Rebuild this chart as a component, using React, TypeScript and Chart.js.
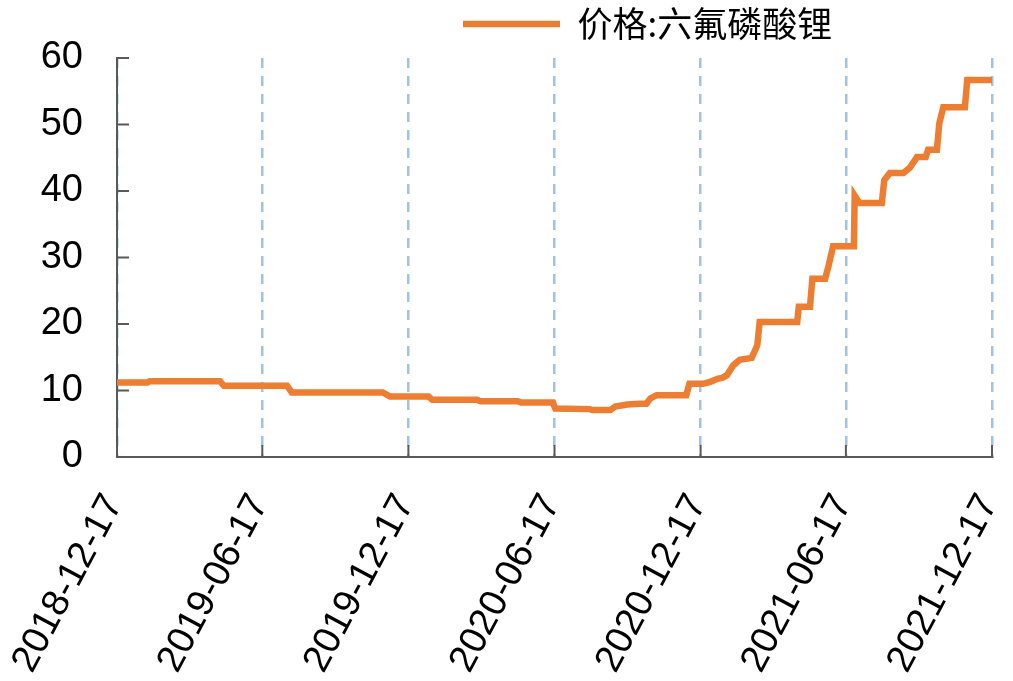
import { useEffect, useRef } from "react"
import { Chart, registerables } from "chart.js"
import type { Plugin } from "chart.js"

Chart.register(...registerables)

const seriesLabel = "价格:六氟磷酸锂"

// x positions are days counted from 2018-12-17
const tickDays = [0, 182, 365, 548, 731, 913, 1096]
const tickLabels = ["2018-12-17", "2019-06-17", "2019-12-17", "2020-06-17", "2020-12-17", "2021-06-17", "2021-12-17"]
const yTicks = [0, 10, 20, 30, 40, 50, 60]

const days = [
  0, 38, 41, 129, 134, 213, 219, 333, 342, 390, 395, 451, 455, 502, 506, 546, 549, 592, 596, 618, 624, 639, 655, 663,
  668, 676, 713, 717, 734, 743, 753, 758, 764, 772, 780, 795, 802, 805, 852, 854, 868, 871, 887, 891, 897, 923, 924,
  930, 958, 961, 968, 985, 993, 1002, 1013, 1016, 1027, 1030, 1035, 1062, 1065, 1096,
]
const prices = [
  11.2, 11.2, 11.4, 11.4, 10.7, 10.7, 9.7, 9.7, 9.1, 9.1, 8.6, 8.6, 8.4, 8.4, 8.2, 8.2, 7.3, 7.2, 7.05, 7.05, 7.6, 7.9,
  8.0, 8.0, 8.8, 9.3, 9.3, 11.0, 11.0, 11.3, 11.8, 11.9, 12.3, 13.8, 14.6, 14.9, 16.8, 20.3, 20.3, 22.6, 22.6, 26.8,
  26.8, 28.6, 31.7, 31.7, 39.3, 38.2, 38.2, 41.6, 42.7, 42.7, 43.5, 45.1, 45.1, 46.2, 46.2, 50.2, 52.6, 52.6, 56.7, 56.7,
]

const lineColor = "#ED7D31"
const axisColor = "#595959"
const gridColor = "#9DC3E6"
const fontFamily = "'Liberation Sans', Arial, sans-serif"
const legendFontSize = 35
const legendPadding = 6

// legend placement + the short inward tick marks Excel draws
const excelTweaks: Plugin<"line"> = {
  id: "excelTweaks",
  afterLayout(chart) {
    const legend: any = chart.legend
    if (!legend) return
    legend.left = 463 - legendPadding
    legend.top = 24 - legendPadding - legendFontSize / 2
  },
  beforeDatasetsDraw(chart) {
    const { ctx, chartArea, scales } = chart
    ctx.save()
    ctx.strokeStyle = axisColor
    ctx.lineWidth = 2
    ctx.beginPath()
    yTicks.forEach((v) => {
      const py = scales.y.getPixelForValue(v)
      ctx.moveTo(chartArea.left, py)
      ctx.lineTo(chartArea.left + 12, py)
    })
    tickDays.forEach((d) => {
      const px = scales.x.getPixelForValue(d)
      ctx.moveTo(px, chartArea.bottom)
      ctx.lineTo(px, chartArea.bottom - 12)
    })
    ctx.stroke()
    ctx.restore()
  },
}

export default function App() {
  const chartRef = useRef<HTMLCanvasElement>(null)
  const chartInstance = useRef<Chart | null>(null)

  useEffect(() => {
    document.body.style.margin = "0"
    if (!chartRef.current) return
    if (chartInstance.current) chartInstance.current.destroy()

    const ctx = chartRef.current.getContext("2d")
    if (!ctx) return

    chartInstance.current = new Chart(ctx, {
      type: "line",
      data: {
        datasets: [
          {
            label: seriesLabel,
            data: days.map((d, i) => ({ x: d, y: prices[i] })),
            borderColor: lineColor,
            backgroundColor: lineColor,
            borderWidth: 6.5,
            borderCapStyle: "round",
            pointRadius: 0,
            tension: 0,
          },
        ],
      },
      options: {
        animation: false,
        responsive: true,
        maintainAspectRatio: false,
        layout: { padding: { left: 0, right: 21, top: 7, bottom: 0 } },
        plugins: {
          tooltip: { enabled: false },
          legend: {
            position: "top",
            align: "start",
            labels: {
              usePointStyle: true,
              pointStyle: "line",
              pointStyleWidth: 97,
              padding: legendPadding,
              color: "#000",
              font: { family: "'Noto Sans CJK SC', sans-serif", size: legendFontSize },
            },
          },
        },
        scales: {
          x: {
            type: "linear",
            min: 0,
            max: 1096,
            afterBuildTicks: (axis) => {
              axis.ticks = tickDays.map((value) => ({ value }))
            },
            afterFit: (axis) => {
              // rotated labels: keep the plot wide like the original
              axis.paddingLeft = 0
              axis.paddingRight = 0
              axis.height = 224
            },
            grid: { color: gridColor, lineWidth: 2.5, drawTicks: false },
            border: { color: axisColor, width: 2, dash: [10, 8] },
            ticks: {
              autoSkip: false,
              minRotation: 62,
              maxRotation: 62,
              padding: 30,
              labelOffset: -3,
              color: "#000",
              font: { family: fontFamily, size: 38 },
              callback: (value) => tickLabels[tickDays.indexOf(Number(value))] ?? "",
            },
          },
          y: {
            min: 0,
            max: 60,
            afterFit: (axis) => {
              axis.width = 117
            },
            grid: { drawOnChartArea: false, drawTicks: false },
            border: { color: axisColor, width: 2 },
            ticks: {
              stepSize: 10,
              padding: 34,
              color: "#000",
              font: { family: fontFamily, size: 38 },
            },
          },
        },
      },
      plugins: [excelTweaks],
    })

    return () => {
      if (chartInstance.current) {
        chartInstance.current.destroy()
        chartInstance.current = null
      }
    }
  }, [])

  return (
    <div style={{ width: 1013, height: 681, position: "relative" }}>
      <canvas ref={chartRef} />
    </div>
  )
}
